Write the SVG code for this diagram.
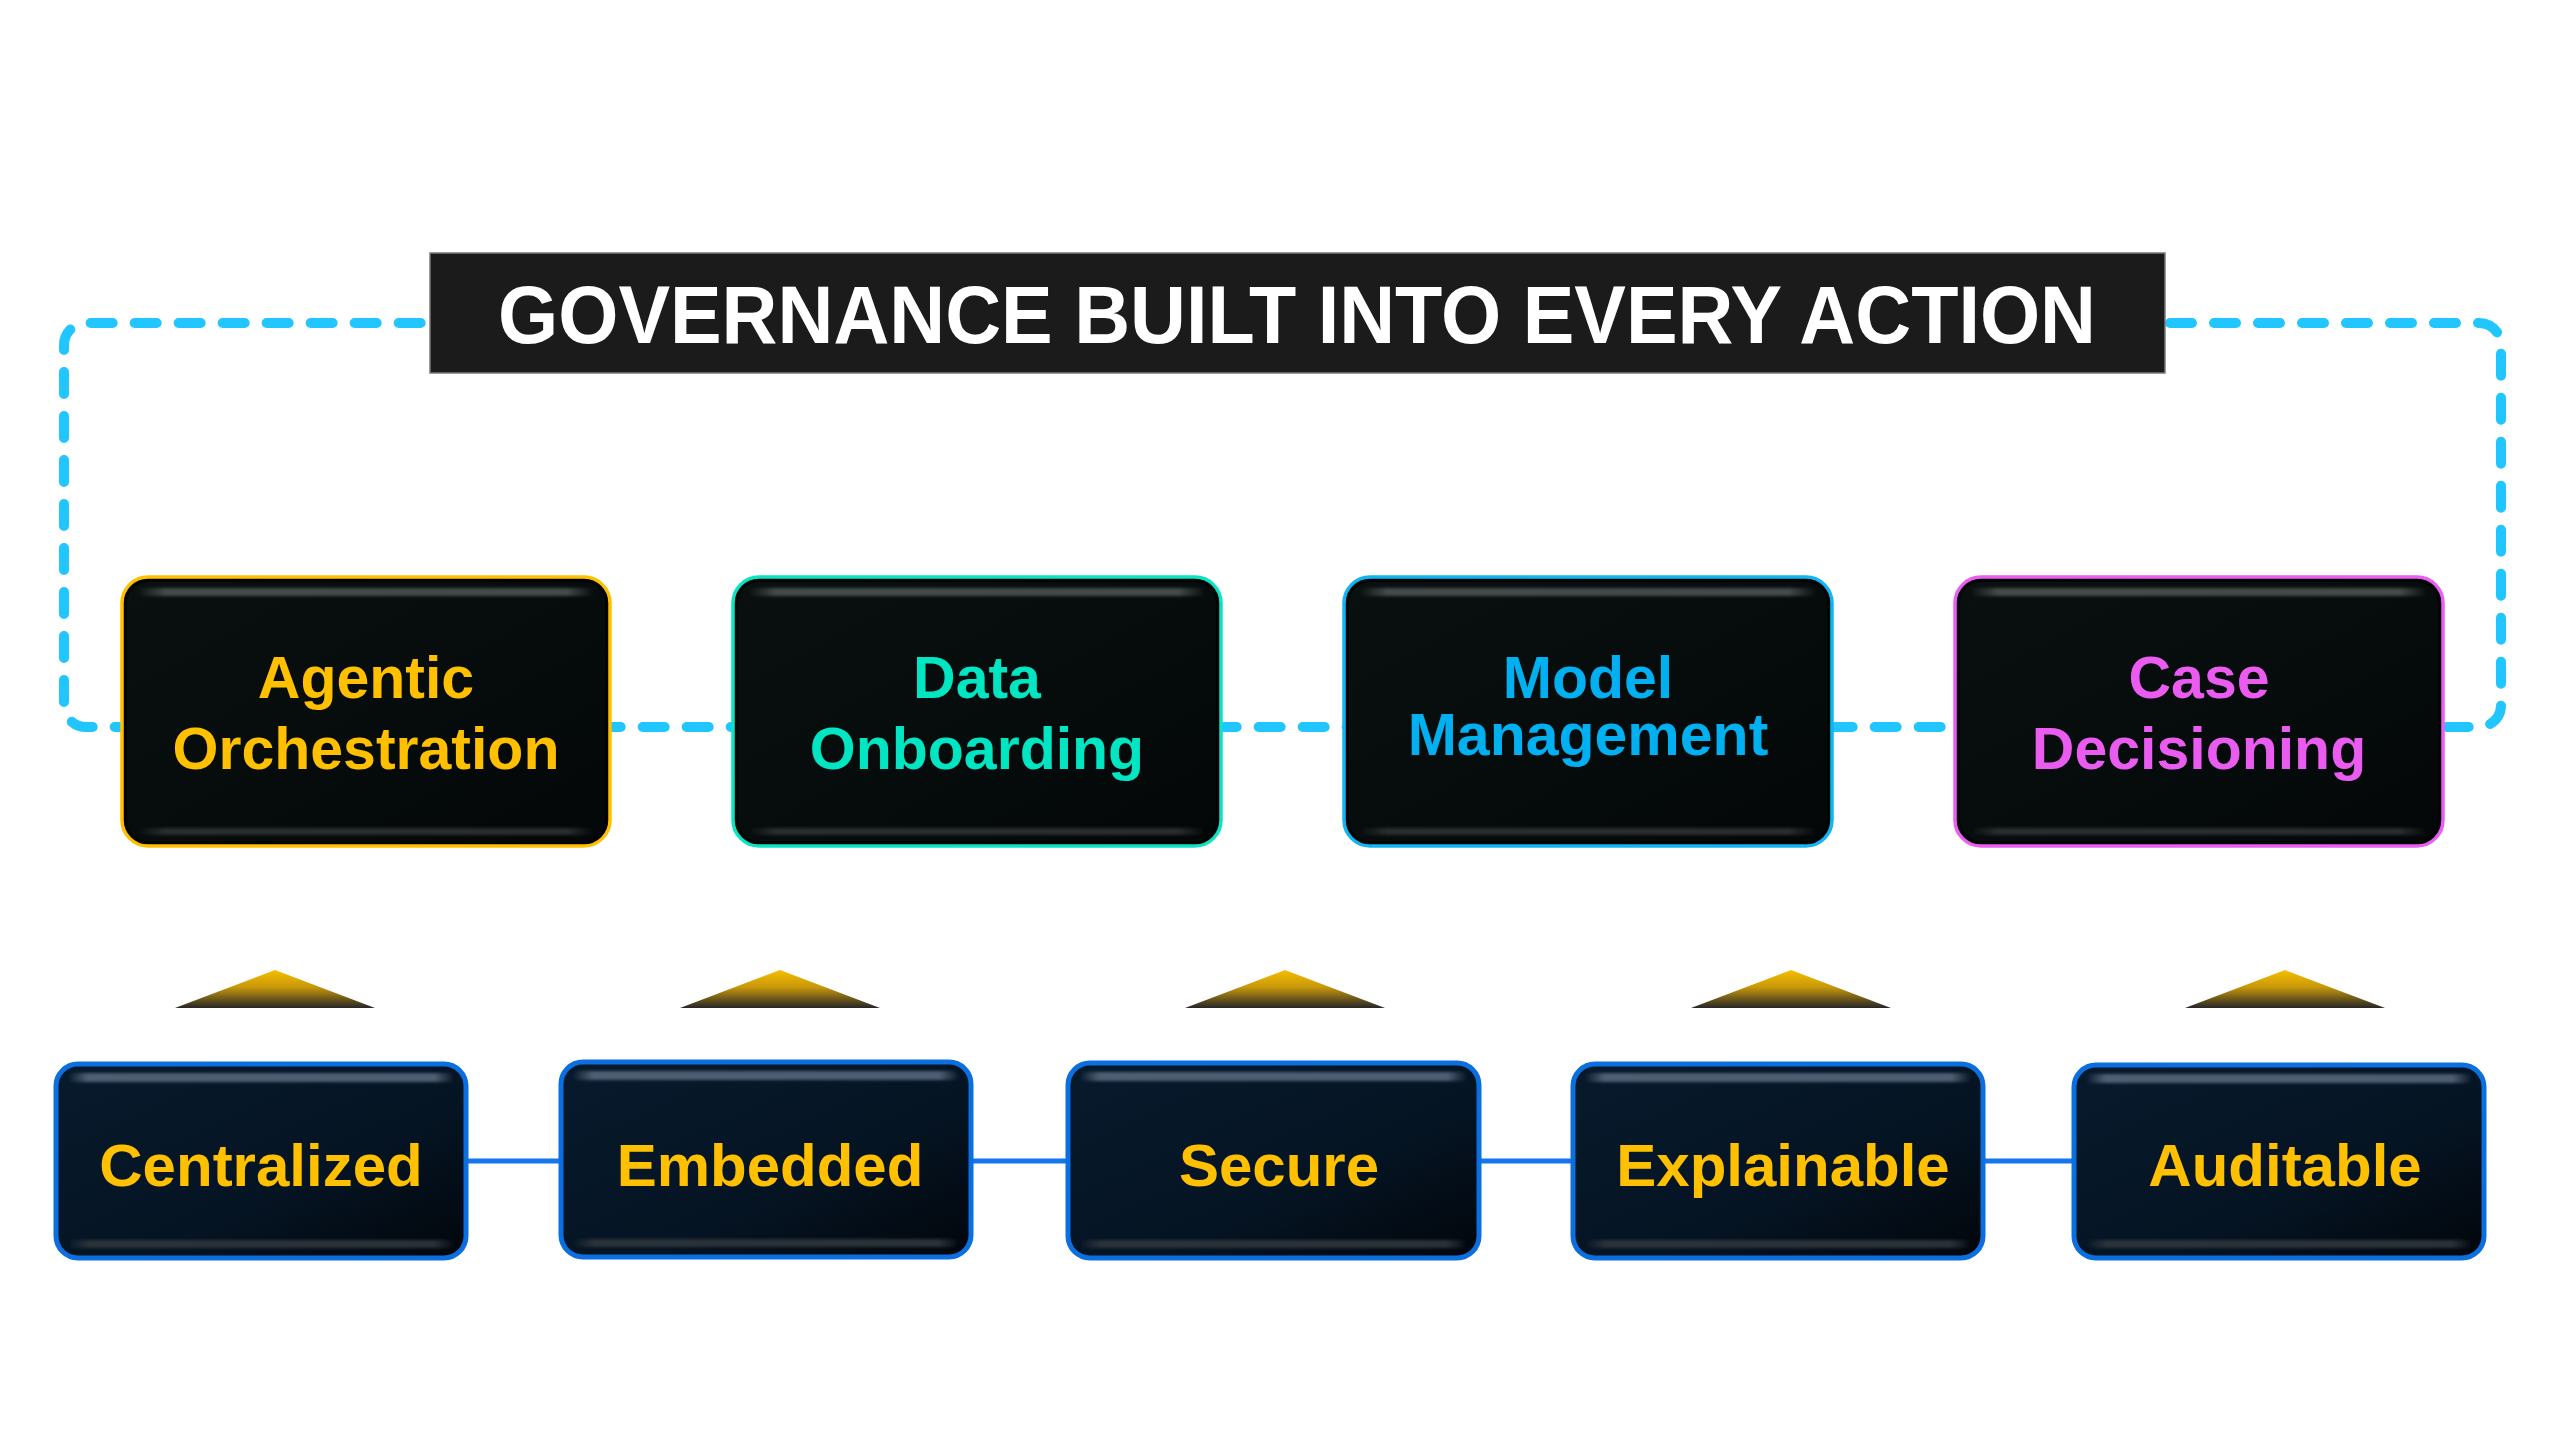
<svg xmlns="http://www.w3.org/2000/svg" width="2560" height="1451" viewBox="0 0 2560 1451">
  <defs>
    <linearGradient id="topFill" x1="0" y1="0" x2="1" y2="1">
      <stop offset="0" stop-color="#0a1010"/>
      <stop offset="1" stop-color="#030707"/>
    </linearGradient>
    <linearGradient id="botFill" x1="0" y1="0" x2="1" y2="1">
      <stop offset="0" stop-color="#071a2c"/>
      <stop offset="0.6" stop-color="#051423"/>
      <stop offset="1" stop-color="#02060b"/>
    </linearGradient>
    <linearGradient id="hlTop" x1="0" y1="0" x2="1" y2="0">
      <stop offset="0" stop-color="#4a5252" stop-opacity="0"/>
      <stop offset="0.06" stop-color="#4a5252" stop-opacity="0.9"/>
      <stop offset="0.94" stop-color="#4a5252" stop-opacity="0.9"/>
      <stop offset="1" stop-color="#4a5252" stop-opacity="0"/>
    </linearGradient>
    <linearGradient id="hlBot" x1="0" y1="0" x2="1" y2="0">
      <stop offset="0" stop-color="#2c3131" stop-opacity="0"/>
      <stop offset="0.06" stop-color="#2c3131" stop-opacity="0.9"/>
      <stop offset="0.94" stop-color="#2c3131" stop-opacity="0.9"/>
      <stop offset="1" stop-color="#2c3131" stop-opacity="0"/>
    </linearGradient>
    <linearGradient id="hlTopB" x1="0" y1="0" x2="1" y2="0">
      <stop offset="0" stop-color="#55657a" stop-opacity="0"/>
      <stop offset="0.05" stop-color="#55657a" stop-opacity="0.9"/>
      <stop offset="0.95" stop-color="#55657a" stop-opacity="0.9"/>
      <stop offset="1" stop-color="#55657a" stop-opacity="0"/>
    </linearGradient>
    <linearGradient id="hlBotB" x1="0" y1="0" x2="1" y2="0">
      <stop offset="0" stop-color="#2a313a" stop-opacity="0"/>
      <stop offset="0.05" stop-color="#2a313a" stop-opacity="0.95"/>
      <stop offset="0.95" stop-color="#2a313a" stop-opacity="0.95"/>
      <stop offset="1" stop-color="#2a313a" stop-opacity="0"/>
    </linearGradient>
    <linearGradient id="triFill" x1="0" y1="0" x2="0" y2="1">
      <stop offset="0" stop-color="#F7BE00"/>
      <stop offset="0.45" stop-color="#C8980A"/>
      <stop offset="1" stop-color="#262626"/>
    </linearGradient>
    <filter id="soft" x="-5%" y="-100%" width="110%" height="300%">
      <feGaussianBlur stdDeviation="1.8"/>
    </filter>
    <filter id="glow" x="-5%" y="-300%" width="110%" height="700%">
      <feGaussianBlur stdDeviation="4"/>
    </filter>
  </defs>
  <style>
    .lbl { font-family: "Liberation Sans", Arial, sans-serif; font-weight: bold; text-anchor: middle; }
    .top { font-size: 59px; }
    .bot { font-size: 60px; fill: #FFC000; }
    .tbox { fill: url(#topFill); stroke-width: 3.5; }
    .bbox { fill: url(#botFill); stroke: #0B6FE0; stroke-width: 5; }
    .hlt { fill: url(#hlTop); filter: url(#soft); }
    .hlb { fill: url(#hlBot); filter: url(#soft); }
    .hltb { fill: url(#hlTopB); filter: url(#soft); }
    .hlbb { fill: url(#hlBotB); filter: url(#soft); }
    .inner { fill: none; stroke: #000; stroke-opacity: 0.6; stroke-width: 3; }
    .tri { fill: url(#triFill); }
  </style>

  <rect width="2560" height="1451" fill="#ffffff"/>

  <g id="connectors">
    <path id="governance-loop" d="M 2170 323 H 2479 A 22 22 0 0 1 2501 345 V 705 A 22 22 0 0 1 2479 727 H 86 A 22 22 0 0 1 64 705 V 345 A 22 22 0 0 1 86 323 H 428" fill="none" stroke="#22C6FF" stroke-width="10" stroke-linecap="round" stroke-dasharray="22 22"/>
    <g id="bottom-links">
      <line x1="261" y1="1161" x2="2279" y2="1161" stroke="#7fb6f4" stroke-width="24" opacity="0.85" filter="url(#glow)"/>
      <line x1="261" y1="1161" x2="2279" y2="1161" stroke="#1577EC" stroke-width="5"/>
    </g>
  </g>

  <g id="title">
    <rect x="430" y="253" width="1735" height="120" fill="#1b1b1b" stroke="#7a7a7a" stroke-width="1.5"/>
    <text x="1297" y="343" class="lbl" font-size="81" fill="#ffffff" textLength="1598" lengthAdjust="spacingAndGlyphs">GOVERNANCE BUILT INTO EVERY ACTION</text>
  </g>

  <g id="node-agentic-orchestration">
    <rect class="tbox" x="122" y="577" width="488" height="269" rx="26" stroke="#FFC000"/>
    <rect class="inner" x="125.5" y="580.5" width="481" height="262" rx="23"/>
    <rect class="hlt" x="138" y="588" width="456" height="8" rx="4"/>
    <rect class="hlb" x="138" y="828" width="456" height="7" rx="3.5"/>
    <text class="lbl top" x="366" y="698" fill="#FFC000">Agentic</text>
    <text class="lbl top" x="366" y="769" fill="#FFC000">Orchestration</text>
  </g>

  <g id="node-data-onboarding">
    <rect class="tbox" x="733" y="577" width="488" height="269" rx="26" stroke="#0BE3C2"/>
    <rect class="inner" x="736.5" y="580.5" width="481" height="262" rx="23"/>
    <rect class="hlt" x="749" y="588" width="456" height="8" rx="4"/>
    <rect class="hlb" x="749" y="828" width="456" height="7" rx="3.5"/>
    <text class="lbl top" x="977" y="698" fill="#00E6C3">Data</text>
    <text class="lbl top" x="977" y="769" fill="#00E6C3">Onboarding</text>
  </g>

  <g id="node-model-management">
    <rect class="tbox" x="1344" y="577" width="488" height="269" rx="26" stroke="#12B4F2"/>
    <rect class="inner" x="1347.5" y="580.5" width="481" height="262" rx="23"/>
    <rect class="hlt" x="1360" y="588" width="456" height="8" rx="4"/>
    <rect class="hlb" x="1360" y="828" width="456" height="7" rx="3.5"/>
    <text class="lbl top" x="1588" y="698" fill="#00B0F0">Model</text>
    <text class="lbl top" x="1588" y="755" fill="#00B0F0">Management</text>
  </g>

  <g id="node-case-decisioning">
    <rect class="tbox" x="1955" y="577" width="488" height="269" rx="26" stroke="#EA5EF2"/>
    <rect class="inner" x="1958.5" y="580.5" width="481" height="262" rx="23"/>
    <rect class="hlt" x="1971" y="588" width="456" height="8" rx="4"/>
    <rect class="hlb" x="1971" y="828" width="456" height="7" rx="3.5"/>
    <text class="lbl top" x="2199" y="698" fill="#EA5CF0">Case</text>
    <text class="lbl top" x="2199" y="769" fill="#EA5CF0">Decisioning</text>
  </g>

  <g id="markers">
    <polygon class="tri" points="275,970 375,1008 175,1008"/>
    <polygon class="tri" points="780,970 880,1008 680,1008"/>
    <polygon class="tri" points="1285,970 1385,1008 1185,1008"/>
    <polygon class="tri" points="1791,970 1891,1008 1691,1008"/>
    <polygon class="tri" points="2285,970 2385,1008 2185,1008"/>
  </g>

  <g id="node-centralized">
    <rect class="bbox" x="56" y="1064" width="410" height="194" rx="22"/>
    <rect class="hltb" x="68" y="1073" width="386" height="9" rx="4.5"/>
    <rect class="hlbb" x="68" y="1240" width="386" height="8" rx="4"/>
    <text class="lbl bot" x="261" y="1186">Centralized</text>
  </g>

  <g id="node-embedded">
    <rect class="bbox" x="561" y="1062" width="410" height="195" rx="22"/>
    <rect class="hltb" x="573" y="1071" width="386" height="9" rx="4.5"/>
    <rect class="hlbb" x="573" y="1239" width="386" height="8" rx="4"/>
    <text class="lbl bot" x="770" y="1186">Embedded</text>
  </g>

  <g id="node-secure">
    <rect class="bbox" x="1068" y="1063" width="411" height="195" rx="22"/>
    <rect class="hltb" x="1080" y="1072" width="387" height="9" rx="4.5"/>
    <rect class="hlbb" x="1080" y="1240" width="387" height="8" rx="4"/>
    <text class="lbl bot" x="1279" y="1186">Secure</text>
  </g>

  <g id="node-explainable">
    <rect class="bbox" x="1573" y="1064" width="410" height="194" rx="22"/>
    <rect class="hltb" x="1585" y="1073" width="386" height="9" rx="4.5"/>
    <rect class="hlbb" x="1585" y="1240" width="386" height="8" rx="4"/>
    <text class="lbl bot" x="1783" y="1186">Explainable</text>
  </g>

  <g id="node-auditable">
    <rect class="bbox" x="2074" y="1065" width="410" height="193" rx="22"/>
    <rect class="hltb" x="2086" y="1074" width="386" height="9" rx="4.5"/>
    <rect class="hlbb" x="2086" y="1240" width="386" height="8" rx="4"/>
    <text class="lbl bot" x="2285" y="1186">Auditable</text>
  </g>
</svg>
